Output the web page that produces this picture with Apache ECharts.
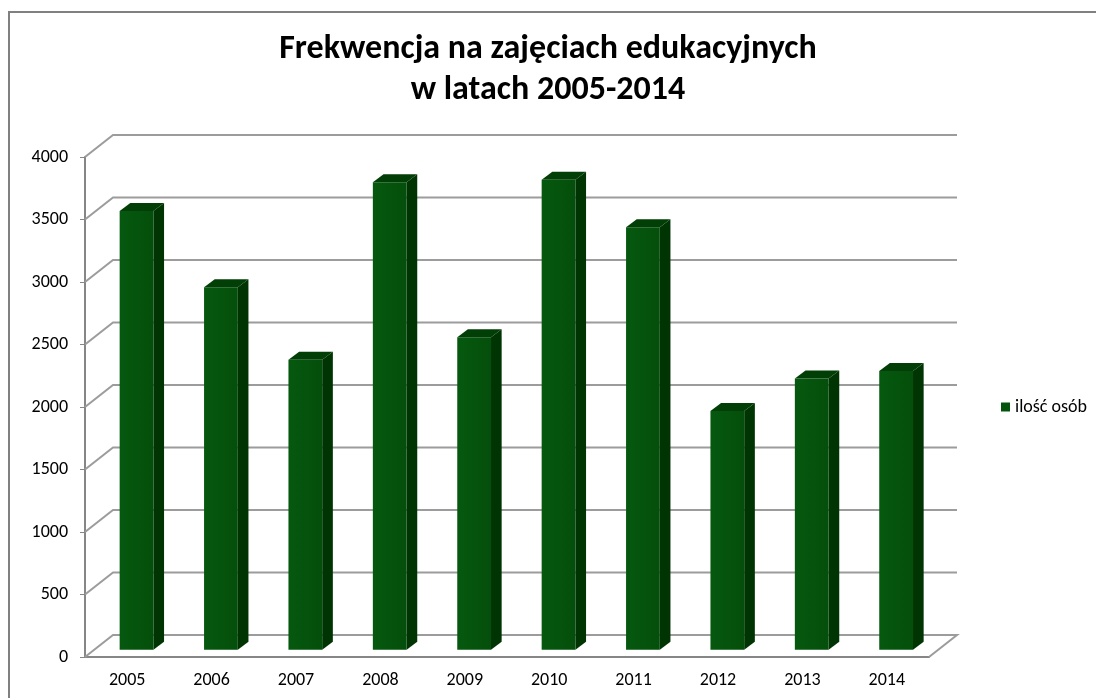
<!DOCTYPE html>
<html>
<head>
<meta charset="utf-8">
<script src="https://cdn.jsdelivr.net/npm/echarts@6/dist/echarts.min.js"></script>
<style>
  html, body { margin: 0; padding: 0; background: #fff; }
  #chart { width: 1096px; height: 698px; }
</style>
</head>
<body>
<div id="chart"></div>
<script>
// dane
const years = ['2005', '2006', '2007', '2008', '2009', '2010', '2011', '2012', '2013', '2014'];
const counts = [3510, 2900, 2320, 3740, 2500, 3760, 3380, 1910, 2170, 2230];
const yTicks = [0, 500, 1000, 1500, 2000, 2500, 3000, 3500, 4000];
const seriesName = 'ilość osób';

// przesunięcie "głębi" wykresu 3D (tylna ściana względem osi)
const DX = 28, DY = -22;
const font = 'Carlito, Calibri, "Open Sans", sans-serif';

const chart = echarts.init(document.getElementById('chart'));

const option = {
  backgroundColor: '#fff',
  animation: false,
  title: {
    text: 'Frekwencja na zajęciach edukacyjnych\nw latach 2005-2014',
    left: 'center',
    top: 24,
    textStyle: { fontFamily: font, fontSize: 34, fontWeight: 'bold', color: '#000', lineHeight: 41 }
  },
  legend: {
    data: [seriesName],
    left: 1001,
    top: 398,
    padding: 0,
    icon: 'rect',
    itemWidth: 9,
    itemHeight: 9,
    textStyle: { fontFamily: font, fontSize: 18, color: '#000' }
  },
  grid: { left: 85, right: 167, top: 157, bottom: 41 },
  xAxis: {
    type: 'category',
    data: years,
    axisLine: { lineStyle: { color: '#868686', width: 2 } },
    axisTick: { length: 5, lineStyle: { color: '#868686', width: 1 } },
    axisLabel: { fontFamily: font, fontSize: 18, color: '#000', margin: 14 },
    splitLine: { show: false }
  },
  yAxis: {
    type: 'value',
    min: 0,
    max: 4000,
    interval: 500,
    axisLine: { show: true, lineStyle: { color: '#868686', width: 2 } },
    axisTick: { show: true, length: 5, lineStyle: { color: '#868686', width: 1 } },
    axisLabel: { fontFamily: font, fontSize: 18, color: '#000', margin: 17, formatter: v => String(v) },
    splitLine: { show: false }
  },
  graphic: [
    {
      type: 'rect',
      shape: { x: 9, y: 12, width: 1200, height: 800 },
      style: { fill: null, stroke: '#808080', lineWidth: 2 },
      silent: true
    }
  ],
  series: [
    {
      // tylna ściana i podłoga
      type: 'custom',
      silent: true,
      z: 1,
      encode: { x: 0, y: 1 },
      data: yTicks.map(v => [0, v]),
      renderItem(params, api) {
        const cs = params.coordSys;
        const y = api.coord([0, api.value(1)])[1];
        const x0 = cs.x, x1 = cs.x + cs.width;
        const pts = [[x0, y], [x0 + DX, y + DY], [x1 + DX, y + DY]];
        if (api.value(1) === 0) pts.push([x1, y]);
        return {
          type: 'polyline',
          shape: { points: pts },
          style: { fill: null, stroke: '#9c9c9c', lineWidth: 2 }
        };
      }
    },
    {
      name: seriesName,
      type: 'custom',
      z: 3,
      itemStyle: { color: '#05540d' },
      encode: { x: 0, y: 1 },
      data: counts.map((v, i) => [i, v]),
      renderItem(params, api) {
        const top = api.coord([api.value(0), api.value(1)]);
        const base = api.coord([api.value(0), 0]);
        const bw = api.size([1, 0])[0];
        const fw = bw * 0.40;
        const ox = DX / 3, oy = DY / 3;   // przód słupka w 1/3 głębi
        const sx = DX * 0.38, sy = DY * 0.36;
        const xl = top[0] - fw / 2 + ox, xr = xl + fw;
        const yt = top[1] + oy, yb = base[1] + oy;
        return {
          type: 'group',
          children: [
            {
              type: 'polygon',
              shape: { points: [[xr, yt], [xr + sx, yt + sy], [xr + sx, yb + sy], [xr, yb]] },
              style: { fill: '#003503' }
            },
            {
              type: 'polygon',
              shape: { points: [[xl, yt], [xl + sx, yt + sy], [xr + sx, yt + sy], [xr, yt]] },
              style: { fill: '#023f06' }
            },
            {
              type: 'rect',
              shape: { x: xl, y: yt, width: fw, height: yb - yt },
              style: {
                fill: new echarts.graphic.LinearGradient(0, 0, 1, 0, [
                  { offset: 0, color: '#06580f' },
                  { offset: 1, color: '#044f0b' }
                ])
              }
            }
          ]
        };
      }
    }
  ]
};

chart.setOption(option);
</script>
</body>
</html>
